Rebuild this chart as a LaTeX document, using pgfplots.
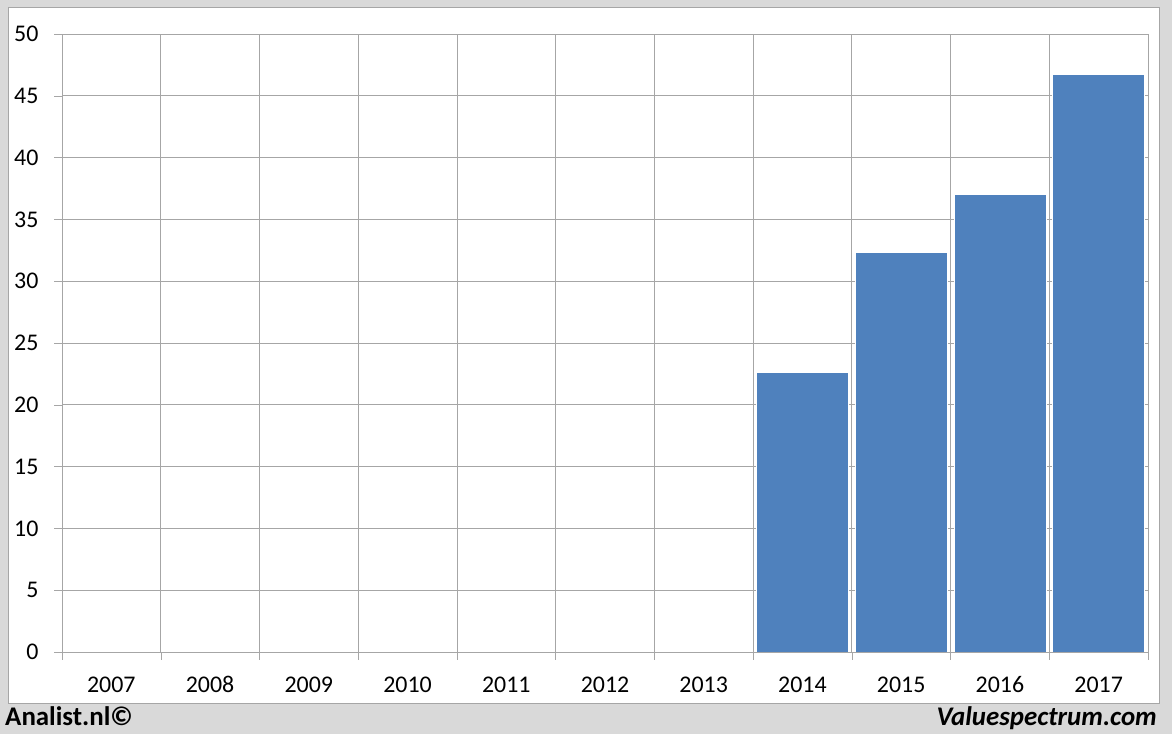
\documentclass[border=0pt]{standalone}
\usepackage{pgfplots}
\pgfplotsset{compat=1.18}
\usepackage{fontspec}
\setmainfont{Carlito}
\definecolor{barblue}{HTML}{4F81BD}
\definecolor{framegray}{HTML}{D9D9D9}
\definecolor{gridgray}{HTML}{A6A6A6}
\begin{document}
\begin{tikzpicture}[x=1bp,y=1bp]
  % frame and footer
  \fill[framegray] (0,0) rectangle (1172,734);
  \filldraw[fill=white,draw=gray!70] (8,31) rectangle (1159,727);
  \node[anchor=base west,inner sep=0pt,font=\fontsize{27}{32}\selectfont\bfseries] at (5,8) {Analist.nl©};
  \node[anchor=base east,inner sep=0pt,font=\fontsize{27}{32}\selectfont\bfseries\itshape] at (1157,8) {Valuespectrum.com};
  \begin{axis}[
    at={(62bp,82bp)}, anchor=south west,
    scale only axis,
    width=1086bp, height=618bp,
    xmin=-0.5, xmax=10.5,
    ymin=0, ymax=50,
    xtick={0,...,10},
    xticklabels={2007,2008,2009,2010,2011,2012,2013,2014,2015,2016,2017},
    minor xtick={-0.5,0.5,...,10.5},
    ytick={0,5,...,50},
    xtick pos=bottom, ytick pos=left,
    major x tick style={draw=none},
    xminorgrids=true, ymajorgrids=true,
    tick align=outside,
    minor tick length=8bp, major tick length=8bp,
    axis line style={gridgray},
    every tick/.style={gridgray},
    grid style={gridgray, line width=0.8pt},
    minor grid style={gridgray, line width=0.8pt},
    tick label style={font=\fontsize{24}{28}\selectfont},
    /pgf/number format/assume math mode=true,
    xticklabel style={anchor=base, yshift=-33bp},
    yticklabel style={xshift=-12bp},
    ybar, bar width=0.93,
  ]
    \addplot[fill=barblue, draw=white, line width=0.6pt] coordinates {
      (7,22.65) (8,32.3) (9,37.05) (10,46.7)
    };
  \end{axis}
\end{tikzpicture}
\end{document}
